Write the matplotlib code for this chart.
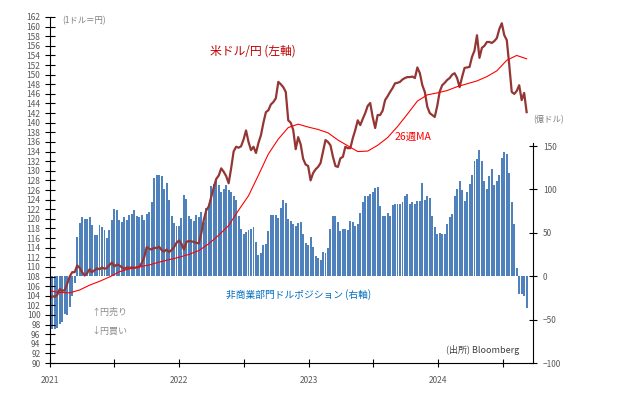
import matplotlib.pyplot as plt
import matplotlib.dates as mdates
import pandas as pd

plt.rcParams['font.family'] = ['Noto Sans CJK JP', 'DejaVu Sans']

# weekly data, Jan 2021 - Sep 2024
weeks = pd.date_range("2021-01-01", periods=193, freq="7D")

# USD/JPY (left axis)
usdjpy = [
    103.3, 103.9, 103.8, 104.2, 105.4, 105.0, 105.2, 106.5, 108.0, 108.9,
    108.9, 110.3, 109.8, 108.9, 108.2, 108.7, 109.5, 108.9, 109.3, 109.7,
    109.5, 109.9, 109.6, 109.8, 110.4, 110.9, 110.1, 110.5, 110.3, 109.9,
    109.6, 109.9, 109.8, 109.9, 109.8, 109.9, 110.0, 110.8, 112.0, 114.1,
    113.8, 113.6, 114.0, 113.9, 114.2, 113.5, 113.2, 113.6, 113.1, 113.5,
    114.1, 115.0,
    115.5, 114.8, 113.6, 115.2, 115.4, 115.3, 115.2, 115.0, 114.9, 117.0,
    119.8, 121.8, 122.6, 124.6, 126.5, 128.3, 129.0, 130.5, 129.8, 128.9,
    127.4, 130.5, 134.0, 135.0, 134.8, 135.1, 136.5, 138.4, 136.0, 134.3,
    135.0, 133.7, 135.8, 137.4, 140.0, 142.2, 142.6, 143.8, 144.3, 145.1,
    148.5, 148.0, 147.4, 146.4, 140.5, 140.0, 138.5, 134.5, 137.0, 135.5,
    132.5, 131.3,
    131.0, 128.0, 129.5, 130.3, 130.8, 131.6, 134.0, 136.4, 136.0, 135.3,
    132.9, 131.0, 130.8, 132.6, 132.9, 135.0, 134.7, 134.7, 136.8, 138.5,
    140.5, 139.5, 140.8, 142.0, 143.5, 144.1, 141.2, 138.9, 141.6, 141.6,
    142.5, 144.7, 145.5, 146.4, 147.2, 148.2, 148.3, 148.5, 149.0, 149.3,
    149.5, 149.5, 149.6, 149.3, 151.5, 150.3, 147.8, 146.4, 143.3, 142.0,
    141.6, 141.2,
    143.5, 146.5, 147.8, 148.3, 148.9, 149.3, 150.0, 150.3, 149.3, 147.4,
    149.5, 151.4, 151.5, 151.6, 153.7, 155.0, 158.2, 153.5, 155.6, 156.0,
    156.8, 156.8, 156.6, 157.0, 157.6, 159.5, 160.7, 158.2, 157.2, 152.0,
    146.4, 146.0, 146.6, 147.8, 144.7, 146.2, 142.2,
]

# 26-week moving average, read every 4 weeks
ma_weeks = weeks[::4]
ma26 = [
    105.0, 104.7, 104.6, 105.2, 106.2, 107.0, 107.9, 109.0, 109.6, 110.0,
    110.4, 111.0, 111.5, 112.0, 112.6, 113.4, 114.8, 116.6, 118.6, 121.8,
    124.8, 129.1, 133.5, 136.6, 139.0, 139.7, 139.1, 138.6, 137.9, 136.4,
    135.2, 134.0, 134.1, 135.3, 136.9, 139.2, 141.8, 144.5, 145.8, 146.2,
    146.7, 147.5, 148.1, 148.7, 149.6, 150.8, 153.0, 154.0, 153.3,
]

# non-commercial net dollar position, 100 million USD (right axis)
position = [
    -58, -61, -61, -60, -55, -53, -43, -45, -35, -23, -8,
    45, 61, 68, 66, 66, 68, 59, 47, 48, 59,
    57, 53, 44, 53, 65, 78, 76, 65, 63, 68,
    65, 71, 72, 76, 70, 68, 71, 65, 72, 74,
    85, 113, 117, 117, 115, 101, 107, 88,
    70, 61, 58, 58, 67, 94, 89, 70, 66, 64,
    71, 68, 74, 63, 79, 83, 104, 106, 112, 105,
    97, 100, 105, 99, 97, 93, 88, 70, 54, 49,
    51, 53, 55, 57, 39, 24, 27, 36, 37, 52,
    71, 71, 71, 67, 79, 88, 84,
    66, 64, 60, 58, 61, 62, 49, 38, 36, 45,
    34, 23, 21, 19, 28, 27, 32, 54, 69, 69,
    62, 52, 54, 54, 53, 64, 62, 58, 60, 73,
    86, 93, 93, 95, 97, 102, 103, 81, 69, 70,
    73, 70, 82, 83, 83, 83, 86, 92,
    95, 83, 85, 83, 87, 87, 107, 88, 92, 90,
    70, 57, 49, 50, 49, 49, 60, 68, 72, 93,
    100, 110, 99, 87, 97, 106, 117, 133, 135, 145,
    133, 110, 101, 115, 124, 105, 110, 117, 136, 143,
    141, 119, 85, 60, 10, -20, -21, -23, -37,
]

left_ticks = list(range(90, 163, 2))
right_ticks = [-100, -50, 0, 50, 100, 150]

fig = plt.figure(figsize=(6.18, 3.98), dpi=100)
ax_bar = fig.add_axes([0.0801, 0.0879, 0.7824, 0.8694])
ax = ax_bar.twinx()

# bars (right axis, drawn behind the lines)
ax_bar.bar(weeks, position, width=5.5, color="#4F81BD", linewidth=0)
ax_bar.set_ylim(-100, 298.8)
ax_bar.set_yticks(right_ticks)
ax_bar.yaxis.tick_right()
ax_bar.set_xlim(pd.Timestamp("2020-12-31"), pd.Timestamp("2024-09-24"))

# lines (left axis)
ax.plot(weeks, usdjpy, color="#943634", lw=1.6)
ax.plot(ma_weeks, ma26, color="#FF0000", lw=0.8)
ax.set_ylim(90, 162)
ax.set_yticks(left_ticks)
ax.yaxis.tick_left()

for s in ["top", "left"]:
    ax_bar.spines[s].set_visible(False)
for s in ["top", "right", "bottom"]:
    ax.spines[s].set_visible(False)
ax_bar.spines["right"].set_bounds(-100, 153)

ax_bar.xaxis.set_major_locator(mdates.YearLocator())
ax_bar.xaxis.set_major_formatter(mdates.DateFormatter("%Y"))
ax_bar.xaxis.set_minor_locator(mdates.MonthLocator(bymonth=7))

ax_bar.tick_params(axis="x", which="both", direction="inout", length=6, width=0.8,
                   labelsize=6, labelcolor="#595959", pad=6)
ax_bar.tick_params(axis="y", direction="inout", length=6, width=0.8,
                   labelsize=6, labelcolor="#595959", pad=4)
ax.tick_params(axis="y", direction="inout", length=7, width=0.8,
               labelsize=6, labelcolor="#595959", pad=3)


def label(x, y, s, **kw):
    fig.text(x / 618, 1 - y / 398, s, va="center", ha="left", **kw)


label(62, 21, "(1ドル＝円)", color="#7f7f7f", fontsize=6)
label(210, 51, "米ドル/円 (左軸)", color="#C00000", fontsize=8.5)
label(395, 137, "26週MA", color="#FF0000", fontsize=7.5)
label(533, 120, "(億ドル)", color="#7f7f7f", fontsize=6)
label(226, 295, "非商業部門ドルポジション (右軸)", color="#0070C0", fontsize=7)
label(92, 312, "↑円売り", color="#8c8c8c", fontsize=6.5)
label(92, 331, "↓円買い", color="#8c8c8c", fontsize=6.5)
label(446, 350, "(出所) Bloomberg", color="#404040", fontsize=6.5)

fig.savefig("out.png", dpi=100)
